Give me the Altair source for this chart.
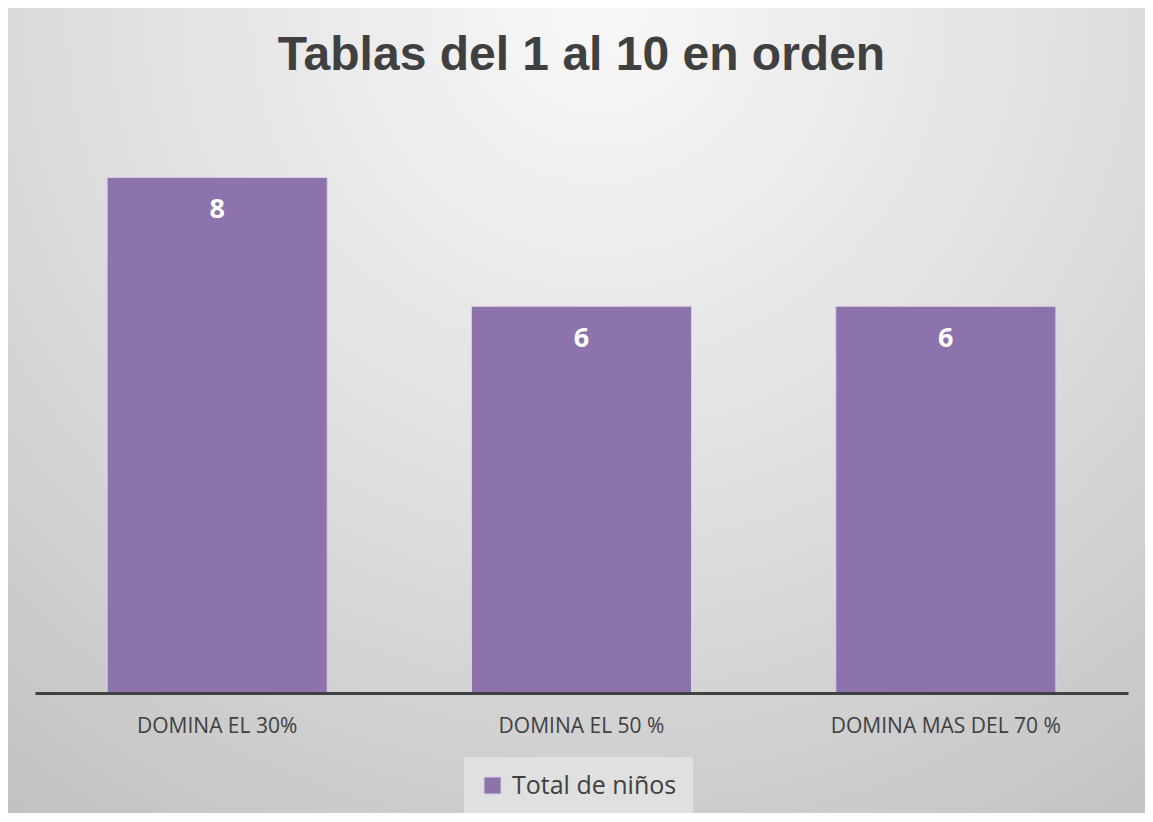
import altair as alt
import pandas as pd

categories = ["DOMINA EL 30%", "DOMINA EL 50 %", "DOMINA MAS DEL 70 %"]
values = [8, 6, 6]
series_name = "Total de niños"
title_text = "Tablas del 1 al 10 en orden"

df = pd.DataFrame({"cat": categories, "val": values, "serie": [series_name] * 3})
bg = pd.DataFrame({"k": [0]})

W, H = 1093, 580
PL, PT, PR, PB = 27, 105, 17, 120

background = alt.Chart(bg).mark_rect(
    color={
        "gradient": "radial",
        "x1": 0.52, "y1": 0.15, "r1": 0,
        "x2": 0.52, "y2": 0.15, "r2": 0.95,
        "stops": [
            {"offset": 0, "color": "#f8f8f8"},
            {"offset": 0.45, "color": "#e0e0e0"},
            {"offset": 1, "color": "#bcbcbc"},
        ],
    }
).encode(
    x=alt.value(-PL), x2=alt.value(W + PR),
    y=alt.value(-PT), y2=alt.value(H + PB),
)

xenc = alt.X(
    "cat:N", sort=categories, title="",
    scale=alt.Scale(paddingInner=0.396, paddingOuter=0.198),
    axis=alt.Axis(
        labelAngle=0, ticks=False, domainColor="#404040", domainWidth=3,
        labelFont="Open Sans", labelFontSize=21, labelColor="#404040",
        labelPadding=39, labelBaseline="alphabetic", zindex=1,
        labelLimit=400,
    ),
)
yenc = alt.Y("val:Q", scale=alt.Scale(domain=[0, 9], nice=False), axis=None)

bars = alt.Chart(df).mark_bar(stroke="#d8cce6", strokeWidth=1).encode(
    x=xenc,
    y=yenc,
    color=alt.Color(
        "serie:N",
        scale=alt.Scale(domain=[series_name], range=["#8c73ab"]),
        legend=alt.Legend(
            title="", orient="none", legendX=429, legendY=644,
            symbolType="square", symbolSize=289, symbolStrokeColor="#d8cce6",
            symbolStrokeWidth=1, labelLimit=400,
            labelFont="Open Sans", labelFontSize=25, labelColor="#404040",
            labelOffset=7, fillColor="#e0e0e0", padding=16,
        ),
    ),
)

labels = alt.Chart(df).mark_text(
    baseline="top", dy=20, font="Open Sans", fontWeight="bold",
    fontSize=27, color="white",
).encode(
    x=alt.X("cat:N", sort=categories),
    y="val:Q",
    text="val:Q",
)

chart = alt.layer(background, bars, labels).properties(
    width=W, height=H,
    padding={"left": PL, "top": PT, "right": PR, "bottom": PB},
    autosize=alt.AutoSizeParams(type="none"),
    title=alt.TitleParams(
        title_text, font="Liberation Sans", fontSize=48, fontWeight="bold",
        color="#404040", anchor="middle", frame="group", baseline="alphabetic",
        offset=0, dy=110,
    ),
).configure_view(stroke=None).configure(background="white")

chart.save("out.html", embed_options={"renderer": "svg", "actions": False})
